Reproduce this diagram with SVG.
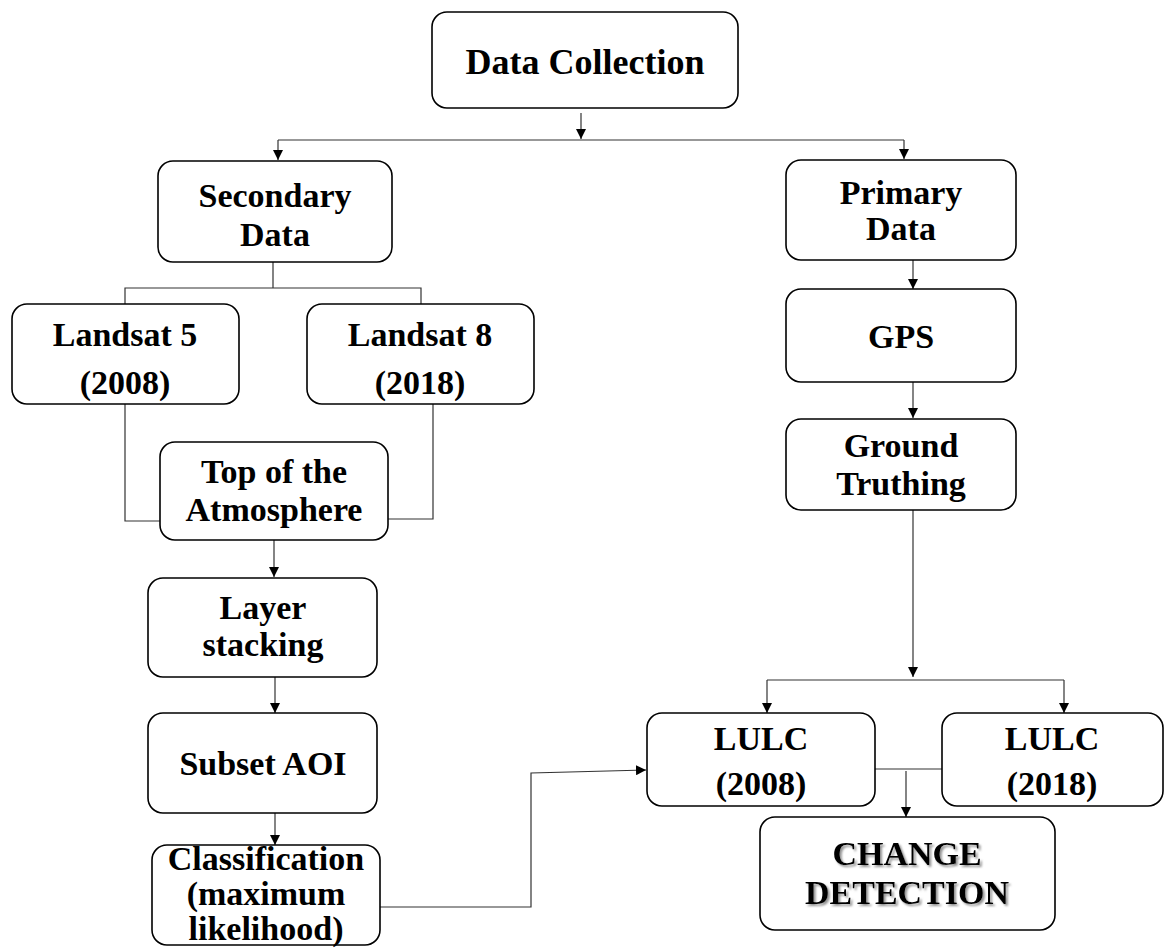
<svg xmlns="http://www.w3.org/2000/svg" width="1165" height="950" viewBox="0 0 1165 950">
<style>
.box{fill:#fff;stroke:#000;stroke-width:1.6}
.t{font-family:"Liberation Serif","Times New Roman",serif;font-weight:bold;font-size:34px;fill:#000;text-anchor:middle}
.ln{fill:none;stroke:#333;stroke-width:1.2}
</style>
<defs>
<marker id="ah" viewBox="0 0 10 10" refX="10" refY="5" markerWidth="10" markerHeight="10" markerUnits="userSpaceOnUse" orient="auto">
<path d="M0,0 L10,5 L0,10 z" fill="#000"/>
</marker>
<filter id="sh" x="-10%" y="-20%" width="130%" height="150%">
<feDropShadow dx="2" dy="2" stdDeviation="1.2" flood-color="#777" flood-opacity="0.8"/>
</filter>
</defs>
<g id="connectors">
<path class="ln" d="M581,113 V139" marker-end="url(#ah)"/>
<path class="ln" d="M278,140 H904"/>
<path class="ln" d="M278,140 V160" marker-end="url(#ah)"/>
<path class="ln" d="M904,140 V159" marker-end="url(#ah)"/>
<path class="ln" d="M273,262 V288 M125,304 V288 H421 V304"/>
<path class="ln" d="M125,404 V521 H160"/>
<path class="ln" d="M433,404 V519 H388"/>
<path class="ln" d="M274,540 V577" marker-end="url(#ah)"/>
<path class="ln" d="M275,677 V713" marker-end="url(#ah)"/>
<path class="ln" d="M275,813 V845" marker-end="url(#ah)"/>
<path class="ln" d="M380,907 H531 V773 L646,770" marker-end="url(#ah)"/>
<path class="ln" d="M913,260 V289" marker-end="url(#ah)"/>
<path class="ln" d="M913,382 V418" marker-end="url(#ah)"/>
<path class="ln" d="M913,510 V677" marker-end="url(#ah)"/>
<path class="ln" d="M767,680 H1064"/>
<path class="ln" d="M767,680 V713" marker-end="url(#ah)"/>
<path class="ln" d="M1064,680 V713" marker-end="url(#ah)"/>
<path class="ln" d="M875,769 H942"/>
<path class="ln" d="M906,771 V817" marker-end="url(#ah)"/>
</g>
<g id="data-collection"><rect class="box" x="432" y="12" width="306" height="96" rx="15"/><text class="t" x="585" y="74" style="font-size:36px">Data Collection</text></g>
<g id="secondary-data"><rect class="box" x="158" y="161" width="234" height="101" rx="15"/><text class="t" x="275" y="207">Secondary</text><text class="t" x="275" y="246">Data</text></g>
<g id="primary-data"><rect class="box" x="786" y="160" width="230" height="100" rx="15"/><text class="t" x="901" y="204">Primary</text><text class="t" x="901" y="240">Data</text></g>
<g id="landsat5"><rect class="box" x="12" y="304" width="227" height="100" rx="15"/><text class="t" x="125" y="346">Landsat 5</text><text class="t" x="125" y="394">(2008)</text></g>
<g id="landsat8"><rect class="box" x="307" y="304" width="227" height="100" rx="15"/><text class="t" x="420" y="346">Landsat 8</text><text class="t" x="420" y="394">(2018)</text></g>
<g id="gps"><rect class="box" x="786" y="289" width="230" height="93" rx="15"/><text class="t" x="901" y="348">GPS</text></g>
<g id="toa"><rect class="box" x="160" y="442" width="228" height="98" rx="15"/><text class="t" x="274" y="483">Top of the</text><text class="t" x="274" y="521">Atmosphere</text></g>
<g id="ground-truthing"><rect class="box" x="786" y="419" width="230" height="91" rx="15"/><text class="t" x="901" y="457">Ground</text><text class="t" x="901" y="495">Truthing</text></g>
<g id="layer-stacking"><rect class="box" x="148" y="578" width="229" height="99" rx="15"/><text class="t" x="263" y="619">Layer</text><text class="t" x="263" y="656">stacking</text></g>
<g id="subset-aoi"><rect class="box" x="148" y="713" width="229" height="100" rx="15"/><text class="t" x="263" y="775">Subset AOI</text></g>
<g id="classification"><rect class="box" x="152" y="845" width="228" height="100" rx="15"/><text class="t" x="266" y="870">Classification</text><text class="t" x="266" y="905">(maximum</text><text class="t" x="266" y="940">likelihood)</text></g>
<g id="lulc2008"><rect class="box" x="647" y="713" width="228" height="93" rx="15"/><text class="t" x="761" y="750">LULC</text><text class="t" x="761" y="795">(2008)</text></g>
<g id="lulc2018"><rect class="box" x="942" y="713" width="221" height="93" rx="15"/><text class="t" x="1052" y="750">LULC</text><text class="t" x="1052" y="795">(2018)</text></g>
<g id="change-detection"><rect class="box" x="760" y="817" width="295" height="113" rx="15"/><text class="t" x="907" y="865" filter="url(#sh)">CHANGE</text><text class="t" x="907" y="904" filter="url(#sh)">DETECTION</text></g>
</svg>
